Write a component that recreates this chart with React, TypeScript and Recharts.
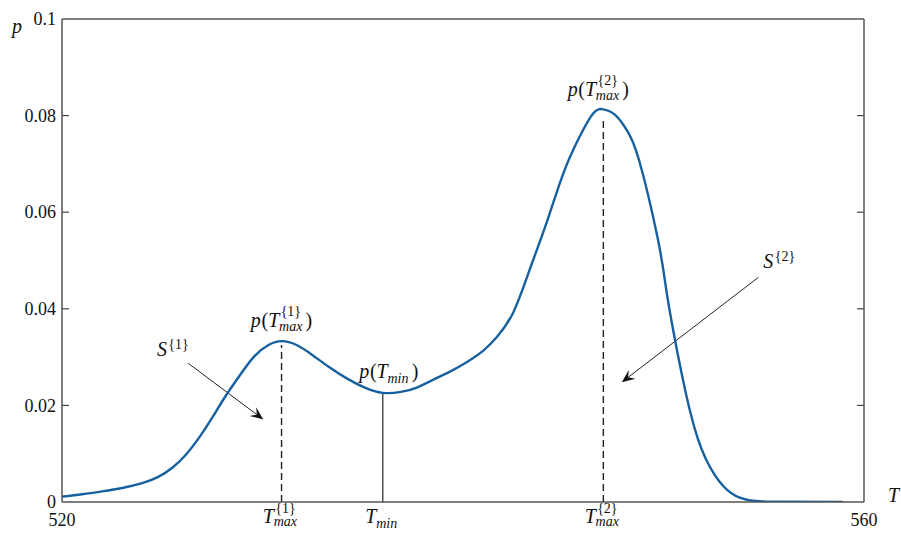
import React from 'react';
import { LineChart, Line, XAxis, YAxis, ReferenceLine, ReferenceDot } from 'recharts';

// ---- data ----
const T_VALUES = [
  520.0, 521.0, 522.0, 523.0, 524.0, 524.8, 525.5, 526.2, 526.9, 527.5, 528.2, 528.9, 529.6, 530.3,
  530.95, 531.7, 532.5, 533.3, 534.2, 535.1, 536.0, 536.9, 537.7, 538.5, 539.35, 540.2, 541.0, 541.7,
  542.5, 543.3, 544.2, 545.0, 545.8, 546.5, 547.0, 547.6, 548.2, 548.8, 549.7, 550.1, 550.5, 551.3, 552.1,
  553.0, 553.8, 554.6, 556.0, 558.95,
];
const P_VALUES = [
  0.0011, 0.0016, 0.0022, 0.0029, 0.0039, 0.0052, 0.0071, 0.0099, 0.0137, 0.0175, 0.0222, 0.0264, 0.0302, 0.0325,
  0.0333, 0.0325, 0.0304, 0.028, 0.0256, 0.0237, 0.0226, 0.0228, 0.0237, 0.0253, 0.027, 0.029, 0.0313, 0.0342,
  0.0392, 0.0478, 0.0582, 0.068, 0.0755, 0.0805, 0.0813, 0.0801, 0.0768, 0.0705, 0.0548, 0.045, 0.0352, 0.0192, 0.009,
  0.0032, 0.0009, 0.0002, 0.00005, 0.0,
];

const X_DOMAIN = [520, 560];
const Y_DOMAIN = [0, 0.1];
const Y_TICKS = [0, 0.02, 0.04, 0.06, 0.08, 0.1];
const Y_INNER_TICKS = [0.02, 0.04, 0.06, 0.08];

// special points
const T_MAX1 = 530.95;
const P_MAX1 = 0.0333;
const T_MIN = 536.0;
const P_MIN = 0.0226;
const T_MAX2 = 547.0;
const P_MAX2 = 0.0813;

const X_TICKS = [520, T_MAX1, T_MIN, T_MAX2, 560];
// tick labels: main symbol, superscript, subscript
const X_TICK_LABELS = [
  { t: '520' },
  { t: 'T', sup: '{1}', sub: 'max' },
  { t: 'T', sub: 'min' },
  { t: 'T', sup: '{2}', sub: 'max' },
  { t: '560' },
];

// arrows (tail -> tip), data coordinates
const ARROW1 = [{ x: 526.3, y: 0.0287 }, { x: 530.04, y: 0.0171 }];
const ARROW2 = [{ x: 554.73, y: 0.0465 }, { x: 547.92, y: 0.0248 }];

const data = T_VALUES.map((t, i) => ({ T: t, p: P_VALUES[i] }));

const FONT = "'Liberation Serif', 'Times New Roman', Times, 'DejaVu Serif', serif";
const INK = '#111';
const FRAME = '#555';
const CURVE = '#16609f';

// ---- simple math text layout ----
const W_REG: Record<string, number> = {
  '0': 0.5, '1': 0.5, '2': 0.5, '3': 0.5, '4': 0.5, '5': 0.5, '6': 0.5, '7': 0.5, '8': 0.5, '9': 0.5,
  '.': 0.25, '(': 0.333, ')': 0.333, '{': 0.48, '}': 0.48,
};
const W_IT: Record<string, number> = {
  p: 0.5, T: 0.556, S: 0.5, m: 0.722, a: 0.5, x: 0.444, i: 0.278, n: 0.5,
};
function textW(s: string, size: number, it: boolean) {
  let w = 0;
  for (const c of s) w += ((it ? W_IT[c] : W_REG[c]) ?? 0.5) * size;
  return w;
}

type Part = { t: string; it?: boolean; sup?: string; sub?: string };

function MathText({ x, y, parts, size, anchor = 'middle', supShift = 0.58 }: { x: number; y: number; parts: Part[]; size: number; anchor?: 'start' | 'middle' | 'end'; supShift?: number }) {
  const ss = size * 0.7;
  const els: { text: string; dx: number; dy: number; size: number; it: boolean }[] = [];
  let cur = 0;
  parts.forEach((p) => {
    const it = !!p.it;
    els.push({ text: p.t, dx: cur, dy: 0, size, it });
    cur += textW(p.t, size, it) + (it ? size * 0.03 : 0);
    if (p.sup || p.sub) {
      const ws = p.sup ? textW(p.sup, ss, false) : 0;
      const wb = p.sub ? textW(p.sub, ss, true) : 0;
      const sx = cur + size * 0.04;
      if (p.sup) els.push({ text: p.sup, dx: sx, dy: p.sub ? -supShift * size : -0.38 * size, size: ss, it: false });
      if (p.sub) els.push({ text: p.sub, dx: sx - (it ? size * 0.08 : 0), dy: p.sup ? 0.17 * size : 0.25 * size, size: ss, it: true });
      cur = sx + Math.max(ws, wb) + size * 0.08;
    }
  });
  const left = anchor === 'middle' ? x - cur / 2 : anchor === 'end' ? x - cur : x;
  return (
    <g style={{ fontFamily: FONT }}>
      {els.map((e, i) => (
        <text
          key={i}
          x={left + e.dx}
          y={y + e.dy}
          style={{ fontFamily: FONT, fontSize: e.size, fontStyle: e.it ? 'italic' : 'normal' }}
          fill={INK}
        >
          {e.text}
        </text>
      ))}
    </g>
  );
}

const XTick = (props: any) => {
  const { x, y, index } = props;
  const lab = X_TICK_LABELS[index];
  if (!lab) return null;
  if (!lab.sup && !lab.sub) {
    return (
      <text x={x} y={y + 24} textAnchor="middle" style={{ fontFamily: FONT, fontSize: 18 }} fill={INK}>
        {lab.t}
      </text>
    );
  }
  return <MathText x={x} y={y + 21} size={20} supShift={0.5} parts={[{ t: lab.t, it: true, sup: lab.sup, sub: lab.sub }]} />;
};

const YTick = (props: any) => {
  const { x, y, payload } = props;
  return (
    <text x={x} y={y} dy="0.34em" textAnchor="end" style={{ fontFamily: FONT, fontSize: 18 }} fill={INK}>
      {String(payload.value)}
    </text>
  );
};

const Arrow = (props: any) => {
  const { x1, y1, x2, y2 } = props;
  const ang = Math.atan2(y2 - y1, x2 - x1);
  const L = 13;
  const Wd = 5.5;
  const ux = Math.cos(ang);
  const uy = Math.sin(ang);
  const bx = x2 - ux * L;
  const by = y2 - uy * L;
  const ix = x2 - ux * L * 0.62;
  const iy = y2 - uy * L * 0.62;
  const pts = [
    [x2, y2],
    [bx - uy * Wd, by + ux * Wd],
    [ix, iy],
    [bx + uy * Wd, by - ux * Wd],
  ]
    .map((p) => p.join(','))
    .join(' ');
  return (
    <g>
      <line x1={x1} y1={y1} x2={ix} y2={iy} stroke="#222" strokeWidth={1} />
      <polygon points={pts} fill="#111" />
    </g>
  );
};

const none = { fill: 'none', stroke: 'none' };

export default function App() {
  return (
    <div style={{ position: 'absolute', left: 0, top: 0, background: '#fff' }}>
      <LineChart width={901} height={534} data={data} margin={{ top: 18, right: 36, bottom: 31, left: 61 }}>
        <XAxis
          dataKey="T"
          type="number"
          domain={X_DOMAIN}
          ticks={X_TICKS}
          interval={0}
          height={1}
          tickSize={0}
          tickMargin={0}
          tickLine={false}
          tick={<XTick />}
          axisLine={{ stroke: FRAME, strokeWidth: 1.5 }}
          allowDataOverflow
        />
        <XAxis
          xAxisId="top"
          orientation="top"
          dataKey="T"
          type="number"
          domain={X_DOMAIN}
          height={1}
          tick={false}
          tickLine={false}
          axisLine={{ stroke: FRAME, strokeWidth: 1.5 }}
          allowDataOverflow
        />
        <YAxis
          type="number"
          domain={Y_DOMAIN}
          ticks={Y_TICKS}
          interval={0}
          width={1}
          tickSize={0}
          tickMargin={6}
          tickLine={false}
          tick={<YTick />}
          axisLine={{ stroke: FRAME, strokeWidth: 1.5 }}
          allowDataOverflow
        />
        <YAxis
          yAxisId="right"
          orientation="right"
          type="number"
          domain={Y_DOMAIN}
          width={1}
          tick={false}
          tickLine={false}
          axisLine={{ stroke: FRAME, strokeWidth: 1.5 }}
          allowDataOverflow
        />

        {Y_INNER_TICKS.map((v) => (
          <ReferenceLine key={'l' + v} segment={[{ x: 520, y: v }, { x: 520.35, y: v }]} stroke="#444" strokeWidth={1.2} />
        ))}
        {Y_INNER_TICKS.map((v) => (
          <ReferenceLine key={'r' + v} segment={[{ x: 559.65, y: v }, { x: 560, y: v }]} stroke="#444" strokeWidth={1.2} />
        ))}

        <ReferenceLine segment={[{ x: T_MAX1, y: 0 }, { x: T_MAX1, y: P_MAX1 - 0.0008 }]} stroke="#222" strokeWidth={1.4} strokeDasharray="7 4" />
        <ReferenceLine segment={[{ x: T_MIN, y: 0 }, { x: T_MIN, y: P_MIN }]} stroke="#222" strokeWidth={1.2} />
        <ReferenceLine segment={[{ x: T_MAX2, y: 0 }, { x: T_MAX2, y: P_MAX2 - 0.002 }]} stroke="#222" strokeWidth={1.4} strokeDasharray="7 4" />

        <ReferenceLine segment={ARROW1} shape={<Arrow />} />
        <ReferenceLine segment={ARROW2} shape={<Arrow />} />

        <Line dataKey="p" type="natural" stroke={CURVE} strokeWidth={2.4} dot={false} isAnimationActive={false} />

        {/* annotations */}
        <ReferenceDot
          x={T_MAX1}
          y={P_MAX1}
          r={1}
          {...none}
          shape={(p: any) => (
            <MathText x={p.cx} y={p.cy - 14} size={20} parts={[{ t: 'p', it: true }, { t: '(' }, { t: 'T', it: true, sup: '{1}', sub: 'max' }, { t: ')' }]} />
          )}
        />
        <ReferenceDot
          x={T_MIN}
          y={P_MIN}
          r={1}
          {...none}
          shape={(p: any) => (
            <MathText x={p.cx + 6} y={p.cy - 15} size={20} parts={[{ t: 'p', it: true }, { t: '(' }, { t: 'T', it: true, sub: 'min' }, { t: ')' }]} />
          )}
        />
        <ReferenceDot
          x={T_MAX2}
          y={P_MAX2}
          r={1}
          {...none}
          shape={(p: any) => (
            <MathText x={p.cx - 5} y={p.cy - 13} size={20} parts={[{ t: 'p', it: true }, { t: '(' }, { t: 'T', it: true, sup: '{2}', sub: 'max' }, { t: ')' }]} />
          )}
        />
        <ReferenceDot
          x={ARROW1[0].x}
          y={ARROW1[0].y}
          r={1}
          {...none}
          shape={(p: any) => <MathText x={p.cx + 2} y={p.cy - 7} size={20} anchor="end" parts={[{ t: 'S', it: true, sup: '{1}' }]} />}
        />
        <ReferenceDot
          x={ARROW2[0].x}
          y={ARROW2[0].y}
          r={1}
          {...none}
          shape={(p: any) => <MathText x={p.cx + 5} y={p.cy - 9} size={20} anchor="start" parts={[{ t: 'S', it: true, sup: '{2}' }]} />}
        />
        <ReferenceDot
          x={520}
          y={0.1}
          r={1}
          {...none}
          shape={(p: any) => <MathText x={p.cx - 50} y={p.cy + 14} size={20} anchor="start" parts={[{ t: 'p', it: true }]} />}
        />
        <ReferenceDot
          x={560}
          y={0}
          r={1}
          {...none}
          shape={(p: any) => <MathText x={p.cx + 24} y={p.cy} size={20} anchor="start" parts={[{ t: 'T', it: true }]} />}
        />
      </LineChart>
    </div>
  );
}
